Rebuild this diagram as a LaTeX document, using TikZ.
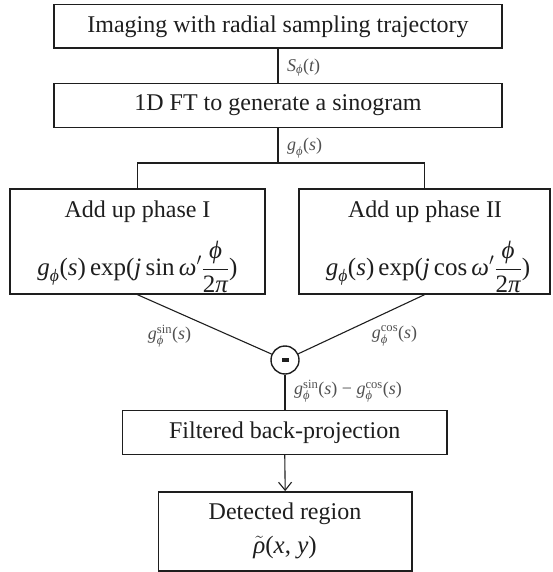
\documentclass[tikz,border=0pt]{standalone}
\usepackage{amsmath}
\usepackage{fontspec}
\setmainfont{Liberation Serif}
\usetikzlibrary{arrows.meta}
\definecolor{ink}{HTML}{1E1E1E}
\definecolor{labelgray}{HTML}{505050}
% Times-like letters inside formulas
\newcommand\mi[1]{\text{\itshape #1}}
\newcommand\mr[1]{\text{\upshape #1}}

\begin{document}
\begin{tikzpicture}[x=1pt,y=-1pt,
  box/.style={draw=ink, line width=1.4pt, inner sep=0pt, text=ink,
              font=\fontsize{24}{28}\selectfont},
  wire/.style={draw=ink, line width=1.1pt},
  txt/.style={text=ink, inner sep=0pt, font=\fontsize{24}{28}\selectfont},
  eqn/.style={text=ink, inner sep=0pt, font=\fontsize{25}{28}\selectfont},
  lbl/.style={text=labelgray, inner sep=0pt, font=\fontsize{18}{20}\selectfont}]

\useasboundingbox (0,0) rectangle (552,572);

% process boxes
\node[box, minimum width=448pt, minimum height=43.8pt] (acq) at (278,26.3)
  {Imaging with radial sampling trajectory};
\node[box, minimum width=448pt, minimum height=44.5pt] (ft) at (278,105.5)
  {1D FT to generate a sinogram};
\node[box, minimum width=255pt, minimum height=105pt] (ph1) at (137.5,241.5) {};
\node[box, minimum width=251pt, minimum height=105pt] (ph2) at (424.5,241.5) {};
\node[draw=ink, line width=1.4pt, circle, minimum size=28pt, inner sep=0pt] (minus) at (285,360) {};
\fill[ink] ([xshift=-3.5pt,yshift=-1.6pt]minus.center) rectangle ([xshift=3.5pt,yshift=1.6pt]minus.center);
\node[box, minimum width=324.5pt, minimum height=43.8pt] (fbp) at (284.75,432.3)
  {Filtered back-projection};
\node[box, minimum width=253.6pt, minimum height=79.2pt] (det) at (285.2,531.4) {};

% texts inside the two phase boxes and the result box
\node[txt] (ph1t) at (137.5,212) {Add up phase I};
\node[eqn] (ph1f) at (137.5,267)
  {$\displaystyle \mi{g}_{\mi{ϕ}}\mr{(}\mi{s}\mr{)}\,\mr{exp(}\mi{j}\,\mr{sin}\,\mi{ω}^{\prime}\frac{\mi{ϕ}}{\mr{2}\mi{π}}\mr{)}$};
\node[txt] (ph2t) at (425,212) {Add up phase II};
\node[eqn] (ph2f) at (428,267)
  {$\displaystyle \mi{g}_{\mi{ϕ}}\mr{(}\mi{s}\mr{)}\,\mr{exp(}\mi{j}\,\mr{cos}\,\mi{ω}^{\prime}\frac{\mi{ϕ}}{\mr{2}\mi{π}}\mr{)}$};
\node[txt] (dett) at (285,514) {Detected region};
\node[eqn] (detf) at (285,548) {$\tilde{\mi{ρ}}\mr{(}\mi{x}\mr{, }\mi{y}\mr{)}$};

% connectors
\coordinate (split) at (278,163);
\draw[wire] (acq.south) -- (ft.north);
\draw[wire] (ft.south) -- (split);
\draw[wire] (ph1.north) |- (split) -| (ph2.north);
\draw[wire] (ph1.south) -- (minus);
\draw[wire] (ph2.south) -- (minus);
\draw[wire] (minus.south) -- (minus.south |- fbp.north);
\draw[wire, -{Straight Barb[length=8pt,width=13pt]}] (fbp.south) -- (det.north);

% signal labels
\node[lbl, anchor=west] (lS) at (287,67.5) {$\mi{S}_{\mi{ϕ}}\mr{(}\mi{t}\mr{)}$};
\node[lbl, anchor=west] (lg) at (287,148) {$\mi{g}_{\mi{ϕ}}\mr{(}\mi{s}\mr{)}$};
\node[lbl] (lsin) at (169.5,336) {$\mi{g}_{\mi{ϕ}}^{\mr{sin}}\mr{(}\mi{s}\mr{)}$};
\node[lbl] (lcos) at (394.5,336) {$\mi{g}_{\mi{ϕ}}^{\mr{cos}}\mr{(}\mi{s}\mr{)}$};
\node[lbl, anchor=west] (ldiff) at (294,391)
  {$\mi{g}_{\mi{ϕ}}^{\mr{sin}}\mr{(}\mi{s}\mr{)}\mr{ − }\mi{g}_{\mi{ϕ}}^{\mr{cos}}\mr{(}\mi{s}\mr{)}$};
\end{tikzpicture}
\end{document}
